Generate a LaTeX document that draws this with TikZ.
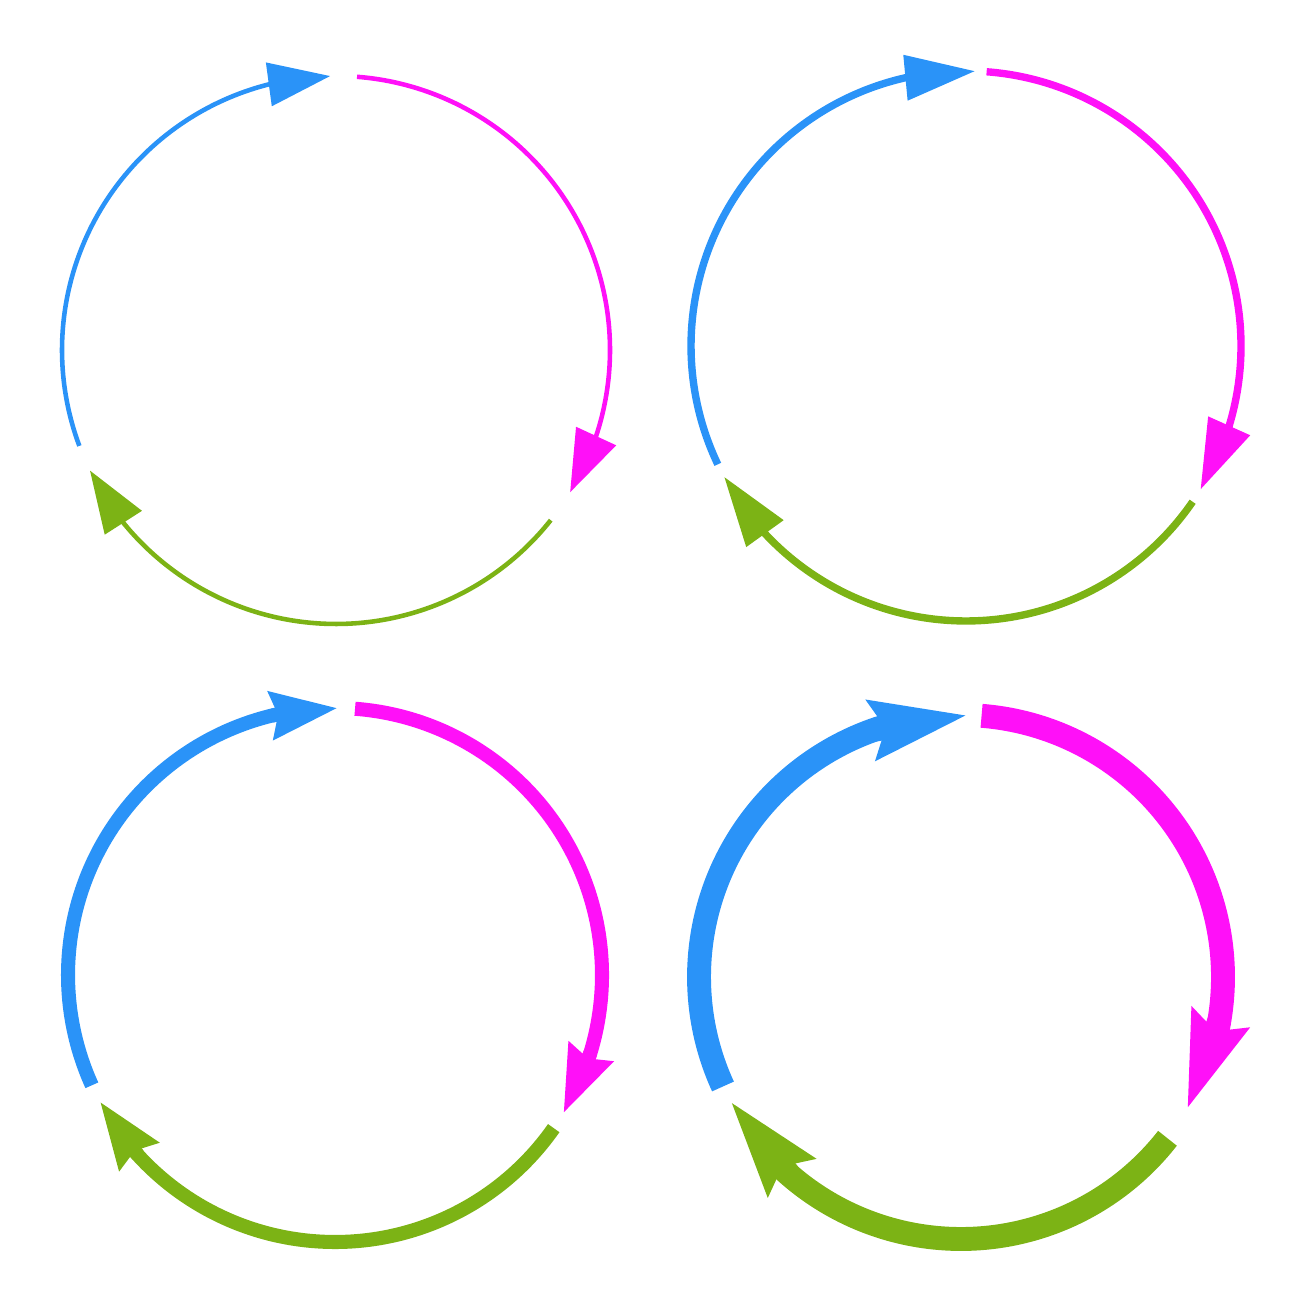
\documentclass[tikz,border=0pt]{standalone}
\usetikzlibrary{arrows.meta}

\definecolor{ringblue}{HTML}{2A93F8}
\definecolor{ringmagenta}{HTML}{FF10F8}
\definecolor{ringgreen}{HTML}{7CB315}

% centre, radius, start angle, tip angle, head angle, style
\newcommand{\ringarc}[6]{%
  \pgfmathsetmacro{\baseangle}{#4+#5}%
  \pgfmathsetmacro{\shaftangle}{#4+#5-2}%
  \path (#1) ++(\baseangle:#2) coordinate (headbase);
  \path (#1) ++(#4:#2) coordinate (headtip);
  \draw [#6, -] (#1) ++(#3:#2) arc [start angle=#3, end angle=\shaftangle, radius=#2];
  \draw [#6] (headbase) -- (headtip);
}

\begin{document}
\begin{tikzpicture}
                \tikzstyle{ring1} = [line width=1.3pt, -{Stealth[length=6.2mm, width=4.3mm, inset=0mm]}]
                \tikzstyle{ring2} = [line width=2.1pt, -{Stealth[length=7mm, width=4.4mm, inset=0mm]}]
                \tikzstyle{ring3} = [line width=4pt, -{Stealth[length=6.6mm, width=4.6mm, inset=.6mm]}]
                \tikzstyle{ring4} = [line width=6.8pt, -{Stealth[length=9.5mm, width=5.7mm, inset=1.2mm]}]

                \useasboundingbox (0,0) rectangle (13,13);

                \coordinate (c1) at (3.36,9.50);
                \coordinate (c2) at (9.66,9.54);
                \coordinate (c3) at (3.35,3.25);
                \coordinate (c4) at (9.61,3.23);

                % thin circle
                \ringarc{c1}{2.74}{200.5}{91.2}{13}{ring1, ringblue}
                \ringarc{c1}{2.74}{85.6}{-31.3}{13}{ring1, ringmagenta}
                \ringarc{c1}{2.74}{-38.4}{-153.9}{13}{ring1, ringgreen}

                % medium circle
                \ringarc{c2}{2.75}{205.5}{88.1}{14.6}{ring2, ringblue}
                \ringarc{c2}{2.75}{85.7}{-31.5}{14.6}{ring2, ringmagenta}
                \ringarc{c2}{2.75}{-34.5}{-151.6}{14.6}{ring2, ringgreen}

                % thick circle
                \ringarc{c3}{2.67}{204.4}{89.4}{14.2}{ring3, ringblue}
                \ringarc{c3}{2.67}{85.7}{-31.2}{14.2}{ring3, ringmagenta}
                \ringarc{c3}{2.67}{-35}{-151.7}{14.2}{ring3, ringgreen}

                % heavy circle
                \ringarc{c4}{2.62}{204.7}{88.5}{20.8}{ring4, ringblue}
                \ringarc{c4}{2.62}{85.5}{-30.4}{20.8}{ring4, ringmagenta}
                \ringarc{c4}{2.62}{-38}{-151.7}{20.8}{ring4, ringgreen}
            \end{tikzpicture}
\end{document}
